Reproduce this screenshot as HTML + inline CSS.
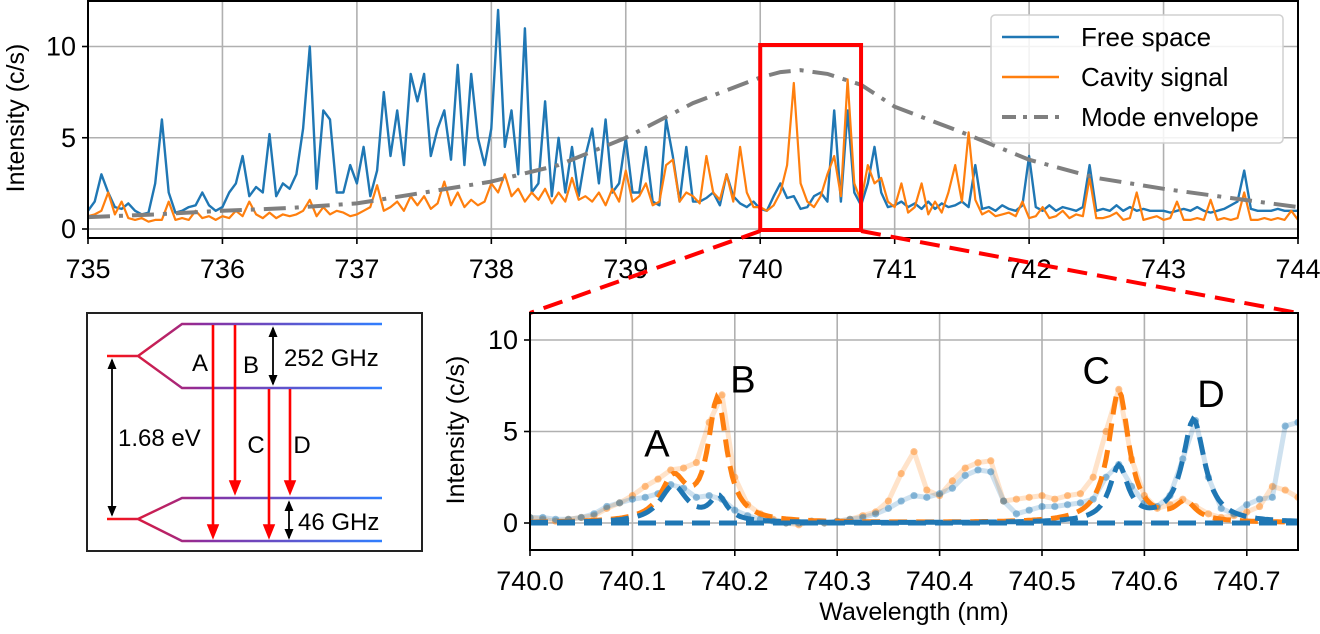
<!DOCTYPE html>
<html><head><meta charset="utf-8">
<style>
html,body{margin:0;padding:0;background:#fff;}
svg{display:block;font-family:"Liberation Sans",Arial,sans-serif;}
</style></head>
<body>
<svg id="fig" width="1320" height="634" viewBox="0 0 1320 634" xmlns="http://www.w3.org/2000/svg">
  <g id="topchart"></g>
  <g id="botchart"></g>
  <g id="schem"></g>
</svg>
<script>
// ---------- top chart data ----------
const topStart = 735.0;
const topStep = 0.05;
const freeSpace = [
1.0,1.5,3.0,2.0,1.2,1.1,1.4,1.0,0.8,0.9,
2.5,6.0,2.0,0.9,1.0,1.2,1.3,2.0,1.3,1.0,
1.2,2.0,2.5,4.0,1.8,2.3,2.0,5.2,1.8,2.5,
2.2,3.0,5.5,10.0,2.2,6.5,6.0,2.0,2.0,3.5,
2.5,4.5,1.8,3.2,7.5,4.0,6.5,3.5,8.5,7.0,
8.5,4.0,5.5,6.5,3.8,9.0,3.5,8.5,5.0,3.5,
5.5,12.0,4.5,6.5,3.0,11.0,2.0,2.5,7.0,1.8,
5.0,2.0,4.5,1.8,4.0,5.5,2.5,6.0,2.0,2.5,
5.0,2.0,2.0,4.5,1.5,1.3,6.0,4.0,1.5,4.5,
1.5,1.5,1.7,2.0,1.3,3.0,1.8,1.4,1.2,1.5,
1.1,1.0,1.8,2.5,1.7,1.8,1.1,1.2,1.8,2.0,
1.5,6.5,1.5,6.5,2.0,1.3,2.5,4.5,2.0,1.2,
1.3,1.5,1.2,1.4,1.1,1.5,1.1,1.4,1.2,1.3,
1.5,1.2,3.5,1.1,1.2,1.0,1.3,1.1,1.0,1.3,
4.0,1.2,1.0,1.3,1.0,1.2,1.1,1.0,1.2,3.5,
1.0,1.1,1.0,1.3,1.0,1.2,1.0,1.1,1.0,1.0,
1.0,0.9,1.0,1.1,1.0,1.2,1.0,0.9,1.0,1.1,
1.3,1.5,3.2,1.1,1.0,1.0,1.0,1.1,1.0,1.0,1.0];
const cavitySignal = [
0.7,0.8,1.0,2.0,0.8,1.5,0.6,0.5,0.6,0.4,
0.5,0.5,1.5,0.5,0.6,0.5,1.0,0.6,0.7,0.5,
0.7,0.6,1.0,0.7,1.5,0.8,0.6,0.9,0.6,0.8,
0.7,0.8,1.0,1.6,0.7,1.2,0.8,1.0,0.9,0.7,
0.8,1.0,1.2,2.4,1.0,1.2,1.5,1.0,1.8,1.3,
1.8,1.1,1.4,2.6,1.3,2.0,1.2,1.6,1.3,1.5,
2.5,2.0,3.0,1.8,2.2,1.5,2.0,1.6,2.2,1.4,
2.0,1.5,2.8,1.6,1.8,1.5,2.0,1.3,2.2,1.5,
3.2,1.5,1.8,2.5,1.3,1.5,3.5,3.8,1.5,2.0,
1.8,1.4,4.0,2.0,1.6,3.0,1.5,4.5,2.0,1.2,
1.2,1.0,1.3,2.0,3.5,8.0,2.5,1.5,1.2,1.8,
3.0,4.0,1.8,8.2,2.5,1.5,3.5,2.5,2.8,1.5,
1.2,2.5,0.9,1.2,2.5,0.8,1.5,0.9,2.0,3.5,
1.5,5.3,1.6,0.8,1.0,0.7,0.8,0.9,0.7,1.5,
0.6,0.7,1.2,0.6,0.7,1.0,0.6,0.8,0.7,2.8,
0.6,0.6,0.7,0.9,0.5,0.6,2.0,0.5,0.6,0.7,
0.5,0.6,1.5,0.5,0.5,0.6,0.5,1.6,0.5,0.6,
0.5,0.6,2.0,0.5,0.5,0.6,0.5,0.6,0.5,1.0,0.5];
const envX = [735,735.5,736,736.5,737,737.5,738,738.5,739,739.5,740,740.15,740.3,740.5,740.75,741,741.5,742,742.5,743,743.5,744];
const envY = [0.65,0.8,1.0,1.15,1.4,2.0,2.6,3.5,5.0,6.9,8.3,8.6,8.7,8.5,7.9,6.7,5.3,3.8,2.8,2.2,1.7,1.2];
const topXTicks = [735,736,737,738,739,740,741,742,743,744];
const topYTicks = [0,5,10];
const legendLabels = ["Free space","Cavity signal","Mode envelope"];

// ---------- bottom chart data ----------
const botStart = 740.0;
const botStep = 0.0125;
const cavityPts = [0.3,0.2,0.1,0.2,0.3,0.4,0.8,1.1,1.5,2.0,2.4,2.9,3.0,3.3,5.5,7.0,2.5,1.0,0.5,0.2,0.0,-0.1,0.1,0.0,0.1,0.2,0.4,0.6,1.2,2.7,3.9,1.8,1.5,2.3,3.0,3.3,3.4,1.2,1.3,1.4,1.5,1.3,1.5,1.6,2.5,5.0,7.3,3.5,1.5,0.8,1.0,1.3,0.9,0.5,0.3,0.4,0.6,0.9,2.0,1.8,1.4];
const freePts = [0.3,0.3,0.2,0.2,0.3,0.5,0.9,1.1,1.3,1.4,1.6,2.1,1.9,1.4,1.5,1.3,0.7,0.4,0.2,0.1,0.0,0.0,0.1,0.0,0.1,0.2,0.3,0.5,0.8,1.2,1.5,1.4,1.6,1.9,2.6,2.9,2.8,1.2,0.5,0.7,0.9,0.9,1.0,1.1,1.3,2.5,3.2,2.0,1.1,0.9,1.5,3.5,5.6,2.5,0.8,0.5,1.0,1.3,1.4,5.3,5.5];
// Lorentzian fit parameters: centres, amplitudes, half-widths
const cavFitCentres = [740.14,740.183,740.575,740.64];
const cavFitAmps = [2.3,6.6,7.2,1.0];
const cavFitWidths = [0.015,0.011,0.012,0.012];
const freeFitCentres = [740.14,740.184,740.575,740.648];
const freeFitAmps = [2.0,1.3,3.0,5.6];
const freeFitWidths = [0.016,0.010,0.011,0.013];
const botXTicks = [740.0,740.1,740.2,740.3,740.4,740.5,740.6,740.7];
const botYTicks = [0,5,10];
const peakLabels = ["A","B","C","D"];
const peakLabelX = [740.124,740.208,740.553,740.665];
const peakLabelY = [4.4,7.9,8.4,7.1];

const NS="http://www.w3.org/2000/svg";
function mk(parent,tag,attrs,text){const e=document.createElementNS(NS,tag);for(const k in attrs)e.setAttribute(k,attrs[k]);if(text!==undefined)e.textContent=text;parent.appendChild(e);return e;}
const BLUE="#1f77b4",ORANGE="#ff7f0e";

// ---- top axes ----
const T={x0:88,x1:1298,y0:1,y1:238};
const tx=v=>T.x0+(v-735)/(744-735)*(T.x1-T.x0);
const ty=v=>229-v*18.25;
const topG=document.getElementById('topchart');
const tgrid=mk(topG,'g',{});


topXTicks.forEach(v=>{mk(tgrid,'line',{x1:tx(v),x2:tx(v),y1:T.y0,y2:T.y1,stroke:'#b0b0b0','stroke-width':1.6});});
topYTicks.forEach(v=>{mk(tgrid,'line',{x1:T.x0,x2:T.x1,y1:ty(v),y2:ty(v),stroke:'#b0b0b0','stroke-width':1.6});});
function seriesPath(arr,start,step,fx,fy){return arr.map((v,i)=>(i?'L':'M')+fx(start+i*step).toFixed(1)+' '+fy(v).toFixed(1)).join(' ');}
const clipT=mk(topG,'clipPath',{id:'clipT'});mk(clipT,'rect',{x:T.x0,y:T.y0,width:T.x1-T.x0,height:T.y1-T.y0});
const fs=mk(topG,'path',{d:seriesPath(freeSpace,topStart,topStep,tx,ty),fill:'none',stroke:BLUE,'stroke-width':2.4,'stroke-linejoin':'round','clip-path':'url(#clipT)'});


const cs=mk(topG,'path',{d:seriesPath(cavitySignal,topStart,topStep,tx,ty),fill:'none',stroke:ORANGE,'stroke-width':2.2,'stroke-linejoin':'round','clip-path':'url(#clipT)'});


const env=mk(topG,'path',{d:envX.map((x,i)=>(i?'L':'M')+tx(x).toFixed(1)+' '+ty(envY[i]).toFixed(1)).join(' '),fill:'none',stroke:'#7f7f7f','stroke-width':4,'stroke-dasharray':'22 9 4 9','clip-path':'url(#clipT)'});


const tframe=mk(topG,'rect',{x:T.x0,y:T.y0,width:T.x1-T.x0,height:T.y1-T.y0,fill:'none',stroke:'#000','stroke-width':2});


topXTicks.forEach(v=>{mk(topG,'line',{x1:tx(v),x2:tx(v),y1:T.y1,y2:T.y1+6,stroke:'#000','stroke-width':1.6});
 const t=mk(topG,'text',{x:tx(v),y:278,'text-anchor':'middle','font-size':27},String(v));
 
 });
topYTicks.forEach(v=>{mk(topG,'line',{x1:T.x0-6,x2:T.x0,y1:ty(v),y2:ty(v),stroke:'#000','stroke-width':1.6});
 const t=mk(topG,'text',{x:T.x0-12,y:ty(v)+9,'text-anchor':'end','font-size':27},String(v));
 
 });
const tyl=mk(topG,'text',{x:0,y:0,transform:'translate(24,118) rotate(-90)','text-anchor':'middle','font-size':25},'Intensity (c/s)');


// red box + connectors
const rbox=mk(topG,'rect',{x:tx(740),y:45,width:tx(740.75)-tx(740),height:229-45+1,fill:'none',stroke:'#ff0000','stroke-width':4});


const c1=mk(topG,'line',{x1:tx(740),y1:231,x2:530,y2:313,stroke:'#ff0000','stroke-width':4,'stroke-dasharray':'20 10'});


const c2=mk(topG,'line',{x1:tx(740.75),y1:231,x2:1298,y2:313,stroke:'#ff0000','stroke-width':4,'stroke-dasharray':'20 10'});


// legend
const lg=mk(topG,'g',{});


mk(lg,'rect',{x:991,y:15,width:292,height:128,rx:4,fill:'#fff','fill-opacity':0.85,stroke:'#d0d0d0','stroke-width':1.5});
const legStyles=[{s:BLUE,w:2.4,d:'none'},{s:ORANGE,w:2.4,d:'none'},{s:'#7f7f7f',w:4,d:'14 7 4 7'}];
legendLabels.forEach((lab,i)=>{const yy=37+i*40;
 const e=mk(lg,'g',{});
 
 
 const st=legStyles[i];
 mk(e,'line',{x1:1002,x2:1059,y1:yy,y2:yy,stroke:st.s,'stroke-width':st.w,'stroke-dasharray':st.d});
 mk(e,'text',{x:1081,y:yy+9,'font-size':26},lab);});

// ---- bottom axes ----
const B={x0:530,x1:1298,y0:313,y1:550};
const bx=v=>B.x0+(v-740)/0.75*(B.x1-B.x0);
const by=v=>523-v*18.3;
const botG=document.getElementById('botchart');
const clipB=mk(botG,'clipPath',{id:'clipB'});mk(clipB,'rect',{x:B.x0,y:B.y0,width:B.x1-B.x0,height:B.y1-B.y0});
const bgrid=mk(botG,'g',{});


botXTicks.forEach(v=>{mk(bgrid,'line',{x1:bx(v),x2:bx(v),y1:B.y0,y2:B.y1,stroke:'#b0b0b0','stroke-width':1.6});});
botYTicks.forEach(v=>{mk(bgrid,'line',{x1:B.x0,x2:B.x1,y1:by(v),y2:by(v),stroke:'#b0b0b0','stroke-width':1.6});});
const bplot=mk(botG,'g',{'clip-path':'url(#clipB)'});
function rawSeries(arr,col,name){
 const g=mk(bplot,'g',{});
 
 
 mk(g,'path',{d:seriesPath(arr,botStart,botStep,bx,by),fill:'none',stroke:col,'stroke-opacity':0.22,'stroke-width':5,'stroke-linejoin':'round'});
 arr.forEach((v,i)=>{const c=mk(g,'circle',{cx:bx(botStart+i*botStep),cy:by(v),r:3.6,fill:col,'fill-opacity':0.45});
  
  });
}
rawSeries(cavityPts,ORANGE,'cavity-data-points');
rawSeries(freePts,BLUE,'free-space-data-points');
function fitPath(cs,as,ws){let d='';for(let k=0;k<=300;k++){const x=740+k*0.0025;let y=0;for(let j=0;j<cs.length;j++){const u=(x-cs[j])/ws[j];y+=as[j]/(1+u*u);}d+=(k?'L':'M')+bx(x).toFixed(1)+' '+by(y).toFixed(1);}return d;}
const of=mk(bplot,'path',{d:fitPath(cavFitCentres,cavFitAmps,cavFitWidths),fill:'none',stroke:ORANGE,'stroke-width':5,'stroke-dasharray':'18 9'});


const bf=mk(bplot,'path',{d:fitPath(freeFitCentres,freeFitAmps,freeFitWidths),fill:'none',stroke:BLUE,'stroke-width':5,'stroke-dasharray':'18 9'});


const bl=mk(bplot,'line',{x1:B.x0,x2:B.x1,y1:by(0),y2:by(0),stroke:BLUE,'stroke-width':5,'stroke-dasharray':'18 9'});


peakLabels.forEach((l,i)=>{const t=mk(botG,'text',{x:bx(peakLabelX[i]),y:by(peakLabelY[i])+14,'text-anchor':'middle','font-size':38},l);
 
 });
const bframe=mk(botG,'rect',{x:B.x0,y:B.y0,width:B.x1-B.x0,height:B.y1-B.y0,fill:'none',stroke:'#000','stroke-width':2});


botXTicks.forEach(v=>{mk(botG,'line',{x1:bx(v),x2:bx(v),y1:B.y1,y2:B.y1+6,stroke:'#000','stroke-width':1.6});
 const t=mk(botG,'text',{x:bx(v),y:590,'text-anchor':'middle','font-size':27},v.toFixed(1));
 
 });
botYTicks.forEach(v=>{mk(botG,'line',{x1:B.x0-6,x2:B.x0,y1:by(v),y2:by(v),stroke:'#000','stroke-width':1.6});
 const t=mk(botG,'text',{x:B.x0-12,y:by(v)+9,'text-anchor':'end','font-size':27},String(v));
 
 });
const byl=mk(botG,'text',{x:0,y:0,transform:'translate(464,430) rotate(-90)','text-anchor':'middle','font-size':25},'Intensity (c/s)');


const bxl=mk(botG,'text',{x:914,y:620,'text-anchor':'middle','font-size':25},'Wavelength (nm)');



// ---- schematic ----
const S=document.getElementById('schem');
const defs=mk(S,'defs',{});
const gr=mk(defs,'linearGradient',{id:'lvl',x1:107,x2:382,y1:0,y2:0,gradientUnits:'userSpaceOnUse'});
mk(gr,'stop',{offset:'0','stop-color':'#ff1010'});mk(gr,'stop',{offset:'0.35','stop-color':'#8a2fa0'});mk(gr,'stop',{offset:'1','stop-color':'#2f7fff'});
const ar=mk(defs,'marker',{id:'ra',markerWidth:6,markerHeight:6,refX:3,refY:3,orient:'auto',markerUnits:'strokeWidth'});
mk(ar,'path',{d:'M0,0.6 L6,3 L0,5.4 Z',fill:'#ff0000'});
const ba=mk(defs,'marker',{id:'ba',markerWidth:6,markerHeight:6,refX:5,refY:3,orient:'auto-start-reverse',markerUnits:'strokeWidth'});
mk(ba,'path',{d:'M0,0.5 L6,3 L0,5.5 Z',fill:'#000'});
const sb=mk(S,'rect',{x:87,y:313,width:335,height:238,fill:'#fff',stroke:'#222','stroke-width':2});


[[356,324,388],[519,498,541]].forEach(([ym,yu,yl],i)=>{
 const p=mk(S,'path',{d:`M107 ${ym} L138 ${ym} L182 ${yu} L382 ${yu} M138 ${ym} L182 ${yl} L382 ${yl}`,fill:'none',stroke:'url(#lvl)','stroke-width':2.4});
 
 });
[[213,325,532],[235,325,488],[269,389,532],[290,389,488]].forEach(([x,y1,y2],i)=>{
 const l=mk(S,'line',{x1:x,x2:x,y1:y1,y2:y2,stroke:'#ff0000','stroke-width':2.6,'marker-end':'url(#ra)'});
 
 });
[[112,360,515],[273,328,384],[289,502,538]].forEach(([x,y1,y2])=>{
 const l=mk(S,'line',{x1:x,x2:x,y1:y1,y2:y2,stroke:'#000','stroke-width':1.8,'marker-start':'url(#ba)','marker-end':'url(#ba)'});
 
 });
[["A",200,371],["B",251,373],["C",256,453],["D",302,453]].forEach(([t,x,y])=>{
 const e=mk(S,'text',{x:x,y:y,'text-anchor':'middle','font-size':24},t);
 
 });
[["252 GHz",284,366],["1.68 eV",118,446],["46 GHz",298,530]].forEach(([t,x,y])=>{
 const e=mk(S,'text',{x:x,y:y,'font-size':24},t);
 
 });
</script>
</body></html>
